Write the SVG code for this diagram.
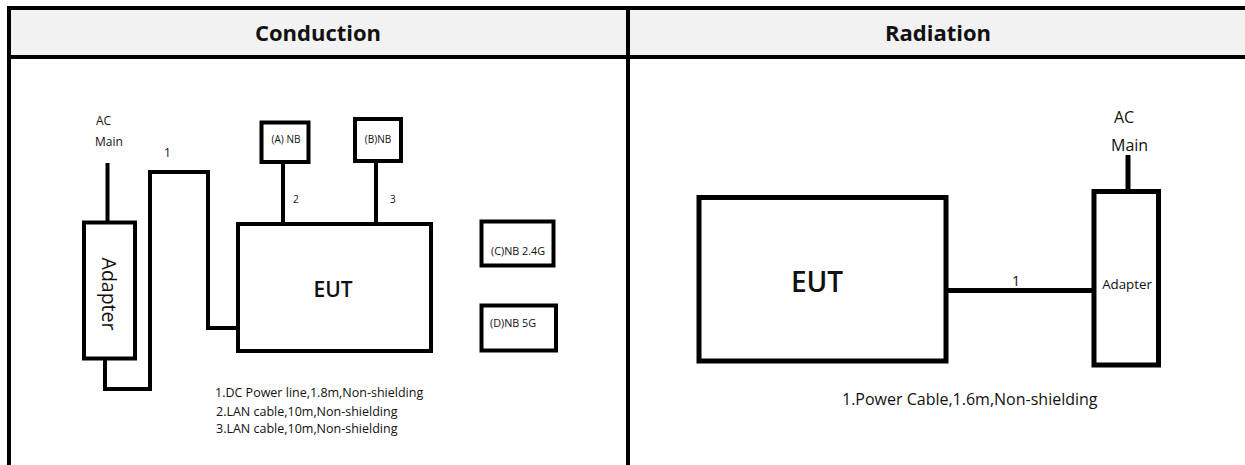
<svg xmlns="http://www.w3.org/2000/svg" width="1245" height="465" viewBox="0 0 1245 465">
  <style>
    text { font-family: "Open Sans", "Noto Sans", "Liberation Sans", sans-serif; fill: #111; }
    .hdr { font-size: 22px; font-weight: bold; text-anchor: middle; }
    .box { fill: #fff; stroke: #000; stroke-width: 4; }
    .boxR { fill: #fff; stroke: #000; stroke-width: 5; }
    .wire { fill: none; stroke: #000; stroke-width: 4; stroke-linejoin: miter; }
    .wireR { fill: none; stroke: #000; stroke-width: 5; }
    .grid { fill: none; stroke: #000; stroke-width: 4; }
    .eut { font-weight: 600; text-anchor: middle; }
    .s { font-size: 12px; }
    .note { font-size: 12.5px; }
    .xs { font-size: 10px; }
    .nb { font-size: 10.8px; }
  </style>

  <!-- table frame -->
  <g id="table">
    <rect x="0" y="0" width="1245" height="465" fill="#fff"/>
    <rect x="9" y="8" width="1240" height="49" fill="#f2f2f2"/>
    <line class="grid" x1="9" y1="8" x2="1245" y2="8"/>
    <line class="grid" x1="9" y1="57" x2="1245" y2="57"/>
    <line class="grid" x1="9" y1="6" x2="9" y2="465"/>
    <line class="grid" x1="628" y1="6" x2="628" y2="465"/>
    <text class="hdr" x="318" y="41">Conduction</text>
    <text class="hdr" x="938" y="41">Radiation</text>
  </g>

  <!-- conduction setup: cables -->
  <g id="conduction-connectors">
    <line class="wire" x1="107.5" y1="163" x2="107.5" y2="222"/>
    <polyline class="wire" points="105,358 105,389 150,389 150,172 208,172 208,328 238,328"/>
    <line class="wire" x1="283" y1="162" x2="283" y2="224"/>
    <line class="wire" x1="376" y1="161" x2="376" y2="224"/>
    <text class="s" x="164" y="157">1</text>
    <text class="xs" x="293" y="203">2</text>
    <text class="xs" x="390" y="203">3</text>
  </g>

  <g id="c-acmain">
    <text class="s" x="96" y="125">AC</text>
    <text class="s" x="95" y="146">Main</text>
  </g>

  <g id="c-adapter">
    <rect class="box" x="84" y="222.5" width="51" height="136"/>
    <text x="109" y="294" font-size="19.5" text-anchor="middle" dominant-baseline="central" transform="rotate(90 109 294)">Adapter</text>
  </g>

  <g id="c-eut">
    <rect class="box" x="238" y="224" width="193" height="127"/>
    <text class="eut" x="333" y="297" font-size="21">EUT</text>
  </g>

  <g id="c-nb-a">
    <rect class="box" x="261.5" y="122.5" width="47" height="39.5"/>
    <text class="xs" x="286" y="143" text-anchor="middle">(A) NB</text>
  </g>

  <g id="c-nb-b">
    <rect class="box" x="355" y="119" width="46" height="42"/>
    <text class="xs" x="378" y="143" text-anchor="middle">(B)NB</text>
  </g>

  <g id="c-nb-c">
    <rect class="box" x="481.5" y="221.5" width="72" height="44"/>
    <text class="nb" x="491" y="255">(C)NB 2.4G</text>
  </g>

  <g id="c-nb-d">
    <rect class="box" x="481.5" y="305.5" width="74.5" height="45"/>
    <text class="nb" x="490" y="327">(D)NB 5G</text>
  </g>

  <g id="c-notes">
    <text class="note" x="215" y="397">1.DC Power line,1.8m,Non-shielding</text>
    <text class="note" x="216" y="416">2.LAN cable,10m,Non-shielding</text>
    <text class="note" x="216" y="433">3.LAN cable,10m,Non-shielding</text>
  </g>

  <!-- radiation setup -->
  <g id="radiation-connectors">
    <line class="wireR" x1="946" y1="290.5" x2="1094" y2="290.5"/>
    <line class="wireR" x1="1128" y1="155" x2="1128" y2="191"/>
    <text x="1012" y="286" font-size="14">1</text>
  </g>

  <g id="r-acmain">
    <text x="1114" y="123" font-size="16">AC</text>
    <text x="1111" y="151" font-size="16">Main</text>
  </g>

  <g id="r-eut">
    <rect class="boxR" x="699" y="197.5" width="247" height="163.5"/>
    <text class="eut" x="817" y="292" font-size="28">EUT</text>
  </g>

  <g id="r-adapter">
    <rect class="boxR" x="1094" y="191.5" width="64.5" height="173.5"/>
    <text x="1127" y="288.5" font-size="13.3" text-anchor="middle">Adapter</text>
  </g>

  <g id="r-notes">
    <text x="842" y="405" font-size="16">1.Power Cable,1.6m,Non-shielding</text>
  </g>
</svg>
